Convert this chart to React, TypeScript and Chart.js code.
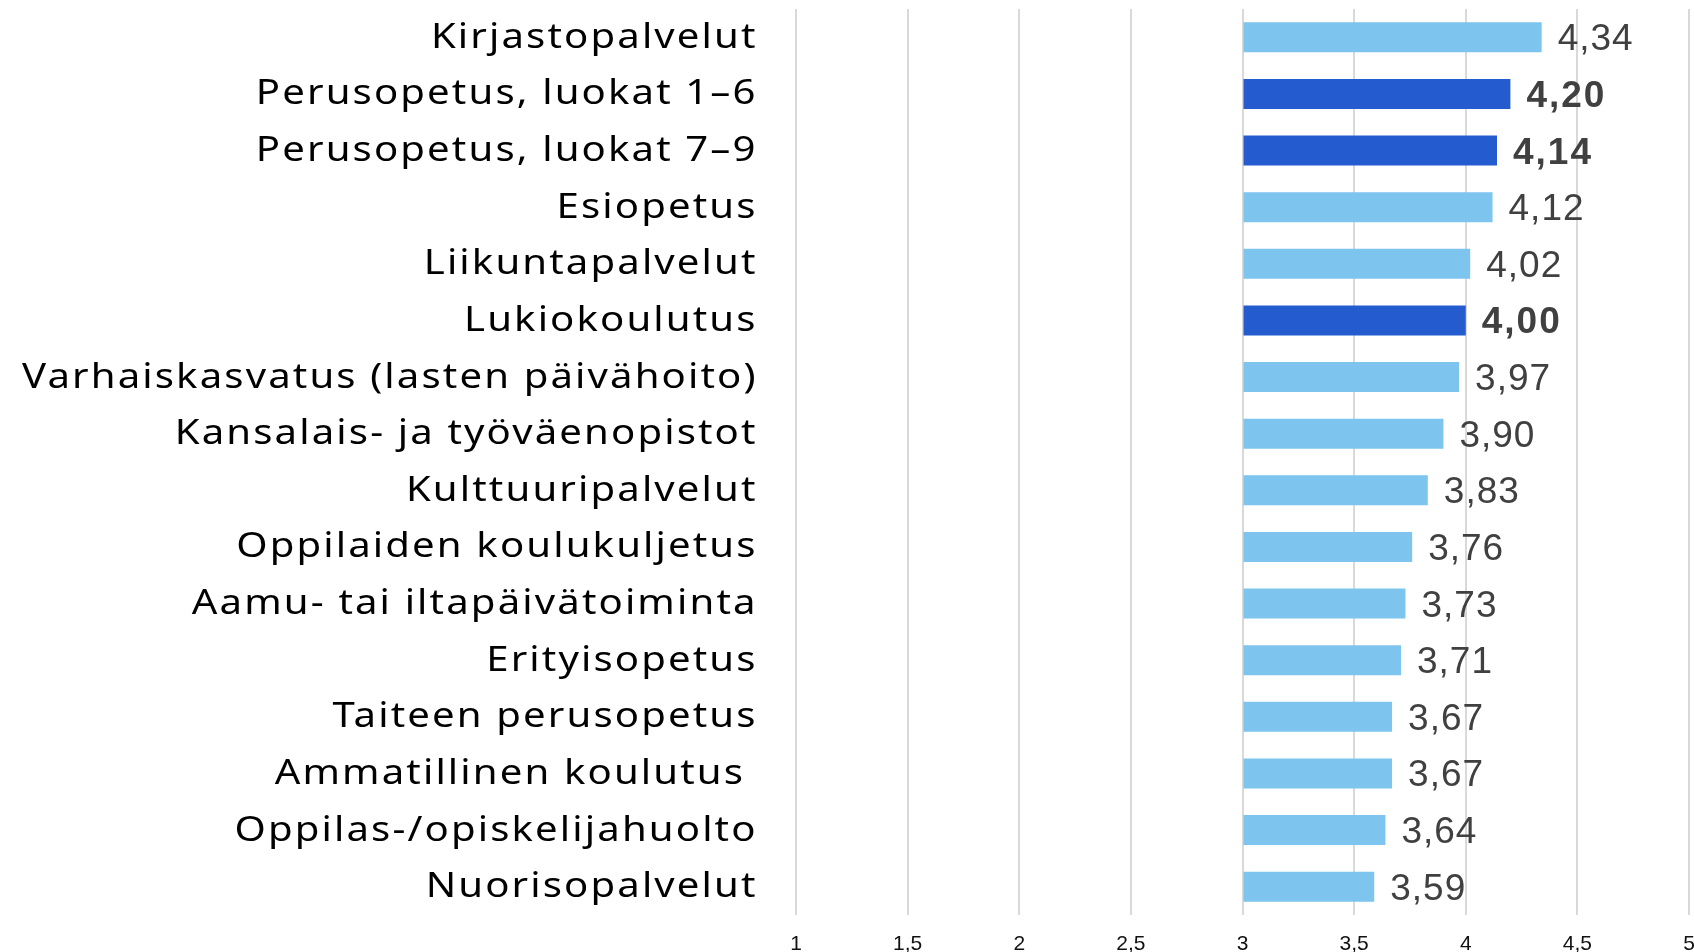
import React, { useEffect, useRef } from "react";
import { Chart, registerables } from "chart.js";

Chart.register(...registerables);

const categories = [
  "Kirjastopalvelut",
  "Perusopetus, luokat 1–6",
  "Perusopetus, luokat 7–9",
  "Esiopetus",
  "Liikuntapalvelut",
  "Lukiokoulutus",
  "Varhaiskasvatus (lasten päivähoito)",
  "Kansalais- ja työväenopistot",
  "Kulttuuripalvelut",
  "Oppilaiden koulukuljetus",
  "Aamu- tai iltapäivätoiminta",
  "Erityisopetus",
  "Taiteen perusopetus",
  "Ammatillinen koulutus ",
  "Oppilas-/opiskelijahuolto",
  "Nuorisopalvelut",
];
const values = [4.34, 4.2, 4.14, 4.12, 4.02, 4.0, 3.97, 3.9, 3.83, 3.76, 3.73, 3.71, 3.67, 3.67, 3.64, 3.59];
const highlighted = [false, true, true, false, false, true, false, false, false, false, false, false, false, false, false, false];
const axisMin = 1;
const axisMax = 5;
const axisStep = 0.5;
const barBase = 3;

const LIGHT = "#7DC5EE";
const DARK = "#245CD0";

const fmt = (v: number, d: number) => v.toFixed(d).replace(".", ",");

const STRETCH = 1.18;
const LABEL_SPACING = 1.8;

const customLabels = {
  id: "customLabels",
  afterDatasetsDraw(chart: any) {
    const ctx = chart.ctx;
    const meta = chart.getDatasetMeta(0);
    const yScale = chart.scales.y;
    ctx.save();
    // value labels
    ctx.textBaseline = "alphabetic";
    ctx.textAlign = "left";
    ctx.fillStyle = "#404040";
    meta.data.forEach((el: any, i: number) => {
      const hl = highlighted[i];
      ctx.font = (hl ? "bold " : "") + "37px 'Liberation Sans', Arial, sans-serif";
      (ctx as any).letterSpacing = hl ? "2px" : "1px";
      ctx.fillText(fmt(values[i], 2), el.x + 16, el.y + 13);
    });
    // category labels
    ctx.fillStyle = "#000";
    ctx.textAlign = "right";
    ctx.font = "34px 'Noto Sans', sans-serif";
    (ctx as any).letterSpacing = LABEL_SPACING + "px";
    categories.forEach((c, i) => {
      const y = yScale.getPixelForValue(i);
      ctx.save();
      ctx.translate(755.5, y);
      ctx.scale(STRETCH, 1);
      ctx.fillText(c, LABEL_SPACING, 10.5);
      ctx.restore();
    });
    ctx.restore();
  },
};

export default function App() {
  const ref = useRef<HTMLCanvasElement | null>(null);
  useEffect(() => {
    if (!ref.current) return;
    const chart = new Chart(ref.current, {
      type: "bar",
      data: {
        labels: categories,
        datasets: [
          {
            data: values,
            base: barBase,
            backgroundColor: highlighted.map((h) => (h ? DARK : LIGHT)),
            barPercentage: 0.53,
            categoryPercentage: 1,
          } as any,
        ],
      },
      options: {
        indexAxis: "y",
        animation: false,
        responsive: false,
        maintainAspectRatio: false,
        layout: { padding: { top: 9, right: 21, left: 0, bottom: 0 } },
        plugins: { legend: { display: false }, tooltip: { enabled: false } },
        scales: {
          x: {
            min: axisMin,
            max: axisMax,
            ticks: {
              stepSize: axisStep,
              padding: 17,
              maxRotation: 0,
              color: "#111",
              font: { family: "'Liberation Sans', Arial", size: 21 },
              callback: (v: any) => String(v).replace(".", ","),
            },
            grid: { color: "#d9d9d9", lineWidth: 2, drawTicks: false },
            border: { display: false },
            afterFit: (s: any) => {
              s.height = 37;
              s.paddingLeft = 0;
              s.paddingRight = 0;
            },
          },
          y: {
            ticks: { display: false },
            grid: { display: false, drawTicks: false },
            border: { display: false },
            afterFit: (s: any) => {
              s.width = 796;
              s.paddingTop = 0;
              s.paddingBottom = 0;
            },
          },
        },
      },
      plugins: [customLabels],
    });
    return () => chart.destroy();
  }, []);
  return (
    <canvas
      ref={ref}
      width={1710}
      height={952}
      style={{ position: "fixed", left: 0, top: 0, width: 1710, height: 952 }}
    />
  );
}
